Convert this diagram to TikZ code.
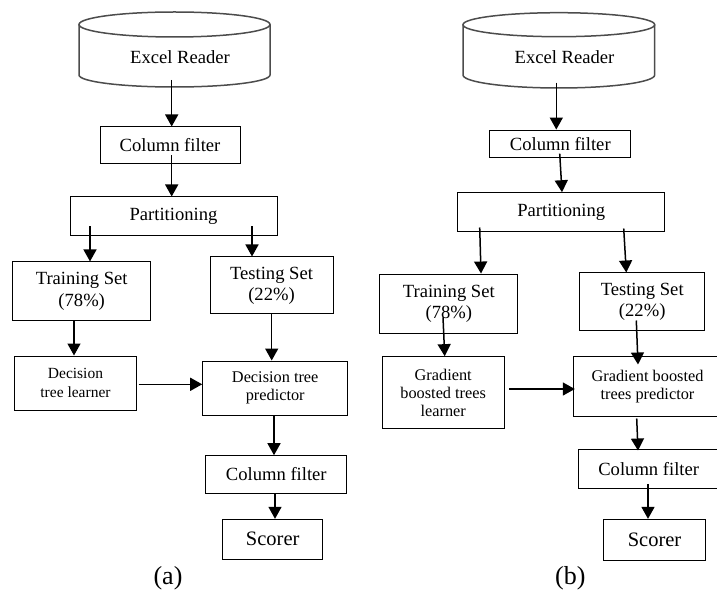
\documentclass[tikz,border=0pt]{standalone}
\usepackage{fontspec}
\setmainfont{Liberation Serif}
\newfontfamily\timesfont{Liberation Serif}
\usetikzlibrary{arrows.meta}
\tikzset{
  box/.style={draw=black, line width=1pt, inner sep=0pt, align=center, font=\timesfont\fontsize{18.6}{21.3}\selectfont},
  sbox/.style={box, font=\timesfont\fontsize{16.3}{18.3}\selectfont},
  cyl/.style={draw=black!70, line width=1.5pt},
  arr/.style={draw=black, line width=1.5pt, -{Triangle[width=13pt,length=12pt]}},
  lbl/.style={inner sep=0pt, font=\timesfont\fontsize{18.6}{21}\selectfont},
  captext/.style={inner sep=0pt, font=\timesfont\fontsize{26}{28}\selectfont},
}
\begin{document}
\begin{tikzpicture}[x=1pt, y=-1pt]
\useasboundingbox (0,0) rectangle (717,593);
% ---------- (a) ----------
\draw[cyl] (174.5,24.5) ellipse [x radius=95.5pt, y radius=12.5pt];
\draw[cyl] (79,24.5) -- (79,75) arc[start angle=180, end angle=360, x radius=95.5pt, y radius=12pt] -- (270,24.5);
\node[lbl] (er1) at (180,56.7) {Excel Reader};
\node[box, minimum width=140pt, minimum height=37pt] (cf1) at (170,145.5) {Column filter};
\node[box, minimum width=207pt, minimum height=39pt] (part1) at (173.5,216.5) {Partitioning};
\node[box, minimum width=138pt, minimum height=58.7pt] (train1) at (81.7,291.3) {Training Set\\(78\%)};
\node[box, minimum width=123pt, minimum height=57pt] (test1) at (271.5,285.5) {Testing Set\\(22\%)};
\node[sbox, font=\timesfont\fontsize{15.5}{18.6}\selectfont, minimum width=122.4pt, minimum height=54pt] (dtl) at (75.5,383) {Decision\\tree learner};
\node[sbox, minimum width=145pt, minimum height=54pt] (dtp) at (275.2,388) {Decision tree\\predictor};
\node[box, minimum width=140.7pt, minimum height=37.6pt] (cf1b) at (276.3,474.5) {Column filter};
\node[box, font=\timesfont\fontsize{20.5}{22}\selectfont, minimum width=100pt, minimum height=40pt] (sc1) at (272.7,539.3) {Scorer};
\node[captext] (capa) at (168,578) {(a)};

\draw[arr] ([xshift=-8.3pt,yshift=-23.3pt]er1.center) -- ([xshift=1.7pt]cf1.north);
\draw[arr] ([xshift=1.7pt,yshift=9pt]cf1.south) -- ([xshift=-1.8pt]part1.north);
\draw[arr] ([xshift=-83.5pt,yshift=10pt]part1.south) -- ([xshift=8.3pt]train1.north);
\draw[arr] ([xshift=78.5pt,yshift=10pt]part1.south) -- ([xshift=-19.5pt]test1.north);
\draw[arr] ([xshift=-7.7pt]train1.south) -- ([xshift=-1.5pt]dtl.north);
\draw[arr] ([xshift=1.3pt,yshift=-1.3pt]dtl.east) -- ([yshift=3.7pt]dtp.west);
\draw[arr] ([xshift=0.2pt]test1.south) -- ([xshift=-3.5pt]dtp.north);
\draw[arr] ([xshift=-1.2pt]dtp.south) -- ([xshift=-2.3pt]cf1b.north);
\draw[arr] ([xshift=-1.3pt]cf1b.south) -- ([xshift=2.3pt]sc1.north);

% ---------- (b) ----------
\draw[cyl] (558.85,24.7) ellipse [x radius=95.85pt, y radius=12pt];
\draw[cyl] (463,24.7) -- (463,75) arc[start angle=180, end angle=360, x radius=95.85pt, y radius=13pt] -- (654.7,24.7);
\node[lbl] (er2) at (564.5,56.7) {Excel Reader};
\node[box, minimum width=141.3pt, minimum height=27.3pt] (cf2) at (560.3,143.7) {Column filter};
\node[box, minimum width=207pt, minimum height=39pt] (part2) at (561.2,212.2) {Partitioning};
\node[box, minimum width=138.3pt, minimum height=59.3pt] (train2) at (448.8,303.7) {Training Set\\(78\%)};
\node[box, minimum width=125pt, minimum height=58pt] (test2) at (642.2,302) {Testing Set\\(22\%)};
\node[sbox, minimum width=122.3pt, minimum height=72.3pt] (gbl) at (443.2,392.8) {Gradient\\boosted trees\\learner};
\node[sbox, minimum width=149pt, minimum height=60pt] (gbp) at (647.5,386.7) {Gradient boosted\\trees predictor};
\node[box, minimum width=140pt, minimum height=39pt] (cf2b) at (648.7,468.8) {Column filter};
\node[box, font=\timesfont\fontsize{20.5}{22}\selectfont, minimum width=101.6pt, minimum height=40.7pt] (sc2) at (654.5,539.7) {Scorer};
\node[captext] (capb) at (570.3,578.3) {(b)};

\draw[arr] ([xshift=-8.2pt,yshift=-26pt]er2.center) -- ([xshift=-4pt]cf2.north);
\draw[arr] ([xshift=-0.6pt,yshift=4.3pt]cf2.south) -- ([xshift=0.8pt]part2.north);
\draw[arr] ([xshift=-81.5pt,yshift=4.7pt]part2.south) -- ([xshift=32.2pt]train2.north);
\draw[arr] ([xshift=62.5pt,yshift=3.7pt]part2.south) -- ([xshift=-15.9pt]test2.north);
\draw[arr] ([xshift=-5.8pt,yshift=16.6pt]train2.south) -- ([xshift=1.5pt]gbl.north);
\draw[arr] ([xshift=4.4pt,yshift=3.8pt]gbl.east) -- ([xshift=2.3pt,yshift=-2.3pt]gbp.west);
\draw[arr] ([xshift=-5.9pt,yshift=11pt]test2.south) -- ([xshift=-9.5pt,yshift=-8.3pt]gbp.north);
\draw[arr] ([xshift=-10.8pt,yshift=-1.3pt]gbp.south) -- ([xshift=-10.7pt,yshift=-1.7pt]cf2b.north);
\draw[arr] ([xshift=-0.7pt,yshift=5pt]cf2b.south) -- ([xshift=-6.5pt]sc2.north);
\end{tikzpicture}
\end{document}
